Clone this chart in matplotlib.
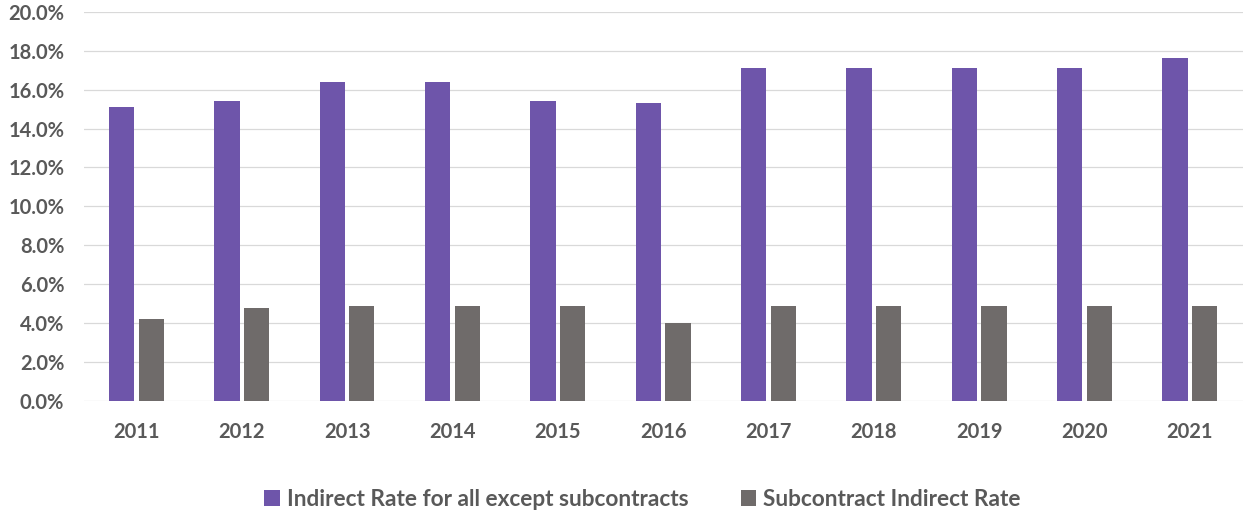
import numpy as np
import matplotlib.pyplot as plt
from matplotlib.ticker import PercentFormatter

plt.rcParams["font.family"] = ["Lato", "DejaVu Sans"]

years = ["2011", "2012", "2013", "2014", "2015", "2016",
         "2017", "2018", "2019", "2020", "2021"]
indirect_rate = [15.1, 15.4, 16.4, 16.4, 15.4, 15.3, 17.1, 17.1, 17.1, 17.1, 17.6]
subcontract_rate = [4.2, 4.8, 4.9, 4.9, 4.9, 4.0, 4.9, 4.9, 4.9, 4.9, 4.9]

purple = "#6E55AA"
grey = "#6F6B6A"
text_col = "#595959"

fig = plt.figure(figsize=(12.5, 5.12), dpi=100)
ax = fig.add_axes([0.067, 0.217, 0.927, 0.76])

x = np.arange(len(years))
w = 0.24
ax.bar(x - w / 2 - 0.02, indirect_rate, w, color=purple,
       label="Indirect Rate for all except subcontracts", zorder=3)
ax.bar(x + w / 2 + 0.02, subcontract_rate, w, color=grey,
       label="Subcontract Indirect Rate", zorder=3)

ax.set_xlim(-0.5, len(years) - 0.5)
ax.set_ylim(0, 20)
ax.set_yticks(np.arange(0, 21, 2))
ax.yaxis.set_major_formatter(PercentFormatter(decimals=1))
ax.set_xticks(x)
ax.set_xticklabels(years)
ax.grid(axis="y", color="#D9D9D9", linewidth=0.9, zorder=0)
for s in ax.spines.values():
    s.set_visible(False)
ax.tick_params(length=0, labelsize=14.5, labelcolor=text_col)
ax.tick_params(axis="x", pad=15)
ax.tick_params(axis="y", pad=14)
for lbl in ax.get_xticklabels() + ax.get_yticklabels():
    lbl.set_fontweight("bold")

fig.legend(loc="lower center", bbox_to_anchor=(0.514, -0.035), ncol=2,
           frameon=False, handlelength=0.7, handleheight=0.7,
           handletextpad=0.3, columnspacing=2.3,
           prop={"size": 16.3, "weight": "bold"}, labelcolor=text_col)

fig.savefig("out.png", dpi=100)
